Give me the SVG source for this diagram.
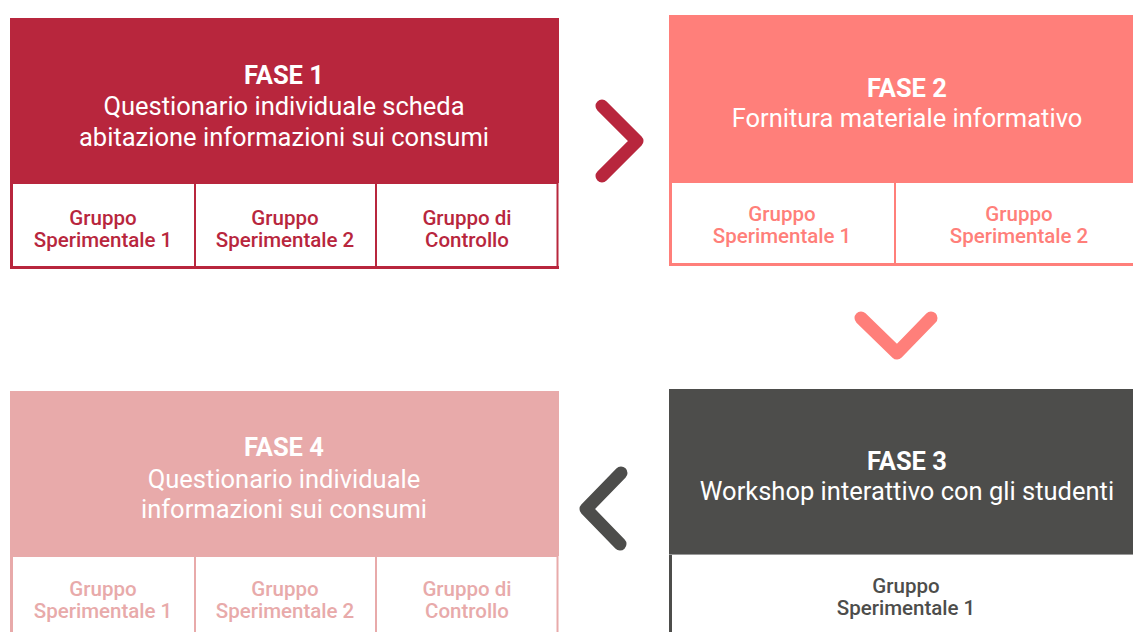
<svg xmlns="http://www.w3.org/2000/svg" width="1133" height="632" viewBox="0 0 1133 632">
<style>
.t{font-family:Roboto,"Liberation Sans",sans-serif;text-anchor:middle;fill:#fff;font-size:25.5px}
.b{font-weight:bold}
.g{font-family:Roboto,"Liberation Sans",sans-serif;text-anchor:middle;font-size:20.5px;font-weight:500}
.ch{fill:none;stroke-width:13;stroke-linecap:round;stroke-linejoin:round}
</style>
<rect width="1133" height="632" fill="#fff"/>
<g id="fase1">
<rect x="10" y="18" width="549" height="165" fill="#B8263D"/>
<rect x="11.5" y="183" width="546" height="84" fill="#fff" stroke="#B8263D" stroke-width="2"/>
<line x1="11.5" y1="183" x2="11.5" y2="269" stroke="#B8263D" stroke-width="3"/>
<line x1="10" y1="267.5" x2="559" y2="267.5" stroke="#B8263D" stroke-width="3"/>
<line x1="195" y1="183" x2="195" y2="267" stroke="#B8263D" stroke-width="2"/>
<line x1="376" y1="183" x2="376" y2="267" stroke="#B8263D" stroke-width="2"/>
<text class="t b" x="284" y="84">FASE 1</text>
<text class="t" x="284" y="115">Questionario individuale scheda</text>
<text class="t" x="284" y="146">abitazione informazioni sui consumi</text>
<g class="g" fill="#B8263D">
<text x="103" y="225">Gruppo</text><text x="103" y="247">Sperimentale 1</text>
<text x="285" y="225">Gruppo</text><text x="285" y="247">Sperimentale 2</text>
<text x="467" y="225">Gruppo di</text><text x="467" y="247">Controllo</text>
</g>
</g>
<g id="fase2">
<rect x="669" y="15" width="464" height="167" fill="#FF7F7A"/>
<rect x="670.5" y="182" width="470" height="82" fill="#fff" stroke="#FF7F7A" stroke-width="2"/>
<line x1="670.5" y1="182" x2="670.5" y2="266" stroke="#FF7F7A" stroke-width="3"/>
<line x1="669" y1="264.5" x2="1133" y2="264.5" stroke="#FF7F7A" stroke-width="3"/>
<line x1="895" y1="182" x2="895" y2="264" stroke="#FF7F7A" stroke-width="2"/>
<text class="t b" x="907" y="97">FASE 2</text>
<text class="t" x="907" y="127">Fornitura materiale informativo</text>
<g class="g" fill="#FF7F7A">
<text x="782" y="221">Gruppo</text><text x="782" y="243">Sperimentale 1</text>
<text x="1019" y="221">Gruppo</text><text x="1019" y="243">Sperimentale 2</text>
</g>
</g>
<g id="fase3">
<rect x="669" y="389" width="464" height="165" fill="#4D4D4B"/>
<line x1="670.5" y1="554" x2="670.5" y2="632" stroke="#4D4D4B" stroke-width="3"/>
<line x1="669" y1="554.5" x2="1133" y2="554.5" stroke="#9a9a9a" stroke-width="1"/>
<text class="t b" x="907" y="470">FASE 3</text>
<text class="t" x="907" y="500">Workshop interattivo con gli studenti</text>
<g class="g" fill="#4D4D4B">
<text x="906" y="593">Gruppo</text><text x="906" y="615">Sperimentale 1</text>
</g>
</g>
<g id="fase4">
<rect x="10" y="391" width="549" height="165" fill="#E8AAAA"/>
<rect x="11.5" y="556" width="546" height="90" fill="#fff" stroke="#E8AAAA" stroke-width="2"/>
<line x1="11.5" y1="556" x2="11.5" y2="632" stroke="#E8AAAA" stroke-width="3"/>
<line x1="195" y1="556" x2="195" y2="632" stroke="#E8AAAA" stroke-width="2"/>
<line x1="376" y1="556" x2="376" y2="632" stroke="#E8AAAA" stroke-width="2"/>
<text class="t b" x="284" y="456">FASE 4</text>
<text class="t" x="284" y="488">Questionario individuale</text>
<text class="t" x="284" y="518">informazioni sui consumi</text>
<g class="g" fill="#E8AAAA">
<text x="103" y="596">Gruppo</text><text x="103" y="618">Sperimentale 1</text>
<text x="285" y="596">Gruppo</text><text x="285" y="618">Sperimentale 2</text>
<text x="467" y="596">Gruppo di</text><text x="467" y="618">Controllo</text>
</g>
</g>
<g id="connectors">
<polyline class="ch" stroke="#B8263D" points="602,106 637,141 602,176"/>
<polyline class="ch" stroke="#FF7F7A" points="861,318 897,353 931,318"/>
<polyline class="ch" stroke="#4D4D4B" points="621,473 586,509 620,544"/>
</g>
</svg>
